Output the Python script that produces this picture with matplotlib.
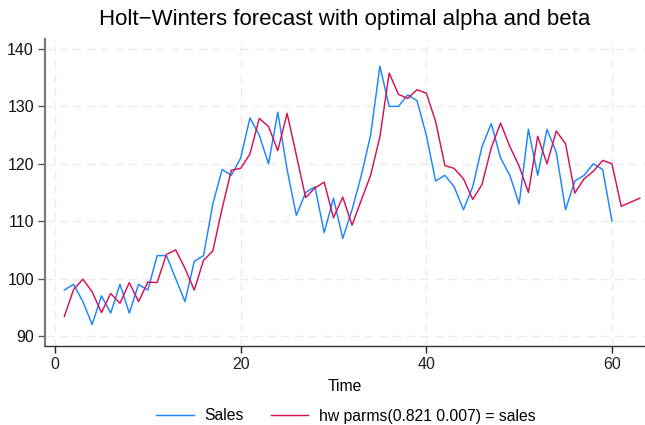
#!/usr/bin/env python3
"""Holt-Winters forecast vs observed sales (Stata-style line chart)."""

import matplotlib
matplotlib.use("Agg")
import matplotlib.pyplot as plt

# observed sales, t = 1..60
sales = [98, 99, 96, 92, 97, 94, 99, 94, 99, 98,
         104, 104, 100, 96, 103, 104, 113, 119, 118, 121,
         128, 125, 120, 129, 119, 111, 115, 116, 108, 114,
         107, 112, 118, 125, 137, 130, 130, 132, 131, 125,
         117, 118, 116, 112, 116, 123, 127, 121, 118, 113,
         126, 118, 126, 122, 112, 117, 118, 120, 119, 110]

# Holt-Winters smoothed / forecast values, t = 1..63
hw = [93.4, 98.1, 99.9, 97.7, 94.1, 97.4, 95.7, 99.3, 96.0, 99.4,
      99.3, 104.2, 105.0, 101.8, 98.0, 103.2, 104.8, 112.2, 118.9, 119.2,
      121.7, 127.9, 126.5, 122.3, 128.8, 121.5, 114.1, 115.8, 116.8, 110.6,
      114.2, 109.3, 113.7, 118.0, 124.7, 135.8, 132.1, 131.4, 132.9, 132.3,
      127.4, 119.7, 119.2, 117.4, 113.8, 116.4, 122.8, 127.1, 123.0, 119.6,
      115.0, 124.8, 120.0, 125.7, 123.5, 114.9, 117.4, 118.7, 120.6, 120.0,
      112.6, 113.3, 114.0]

x_ticks = [0, 20, 40, 60]
y_ticks = [90, 100, 110, 120, 130, 140]

BLUE = "#1a85ff"
RED = "#d41159"
GRID = "#ebebeb"

plt.rcParams["font.family"] = ["Liberation Sans", "DejaVu Sans"]

fig = plt.figure(figsize=(6.45, 4.25), dpi=100)
ax = fig.add_axes([45 / 645, 79 / 425, 600 / 645, 307 / 425])

t_sales = list(range(1, len(sales) + 1))
t_hw = list(range(1, len(hw) + 1))

ax.plot(t_sales, sales, color=BLUE, lw=1.05, label="Sales", zorder=3)
ax.plot(t_hw, hw, color=RED, lw=1.05, label="hw parms(0.821 0.007) = sales", zorder=3)

ax.set_xlim(-1.08, 63.56)
ax.set_ylim(88.26, 141.74)
ax.set_xticks(x_ticks)
ax.set_yticks(y_ticks)

ax.grid(True, color=GRID, lw=1.0, linestyle=(0, (6, 4)), zorder=0)
ax.set_axisbelow(True)

for side in ("top", "right"):
    ax.spines[side].set_visible(False)
ax.spines["left"].set_color("#7a7a7a")
ax.spines["left"].set_linewidth(1.6)
ax.spines["bottom"].set_color("#333333")
ax.spines["bottom"].set_linewidth(1.0)

ax.tick_params(axis="both", direction="out", length=5, width=1.0,
               labelsize=11.5, colors="#222222", pad=3)
ax.tick_params(axis="y", colors="#555555", labelcolor="#111111")

ax.set_xlabel("Time", fontsize=11.3, labelpad=5)
ax.set_title("Holt\u2212Winters forecast with optimal alpha and beta",
             fontsize=16, pad=10)

fig.legend(loc="center", bbox_to_anchor=(346 / 645, 1 - 416 / 425),
           ncol=2, frameon=False, fontsize=11.3, handlelength=2.4,
           handletextpad=0.7, columnspacing=1.7)

fig.savefig("out.png", dpi=100)
